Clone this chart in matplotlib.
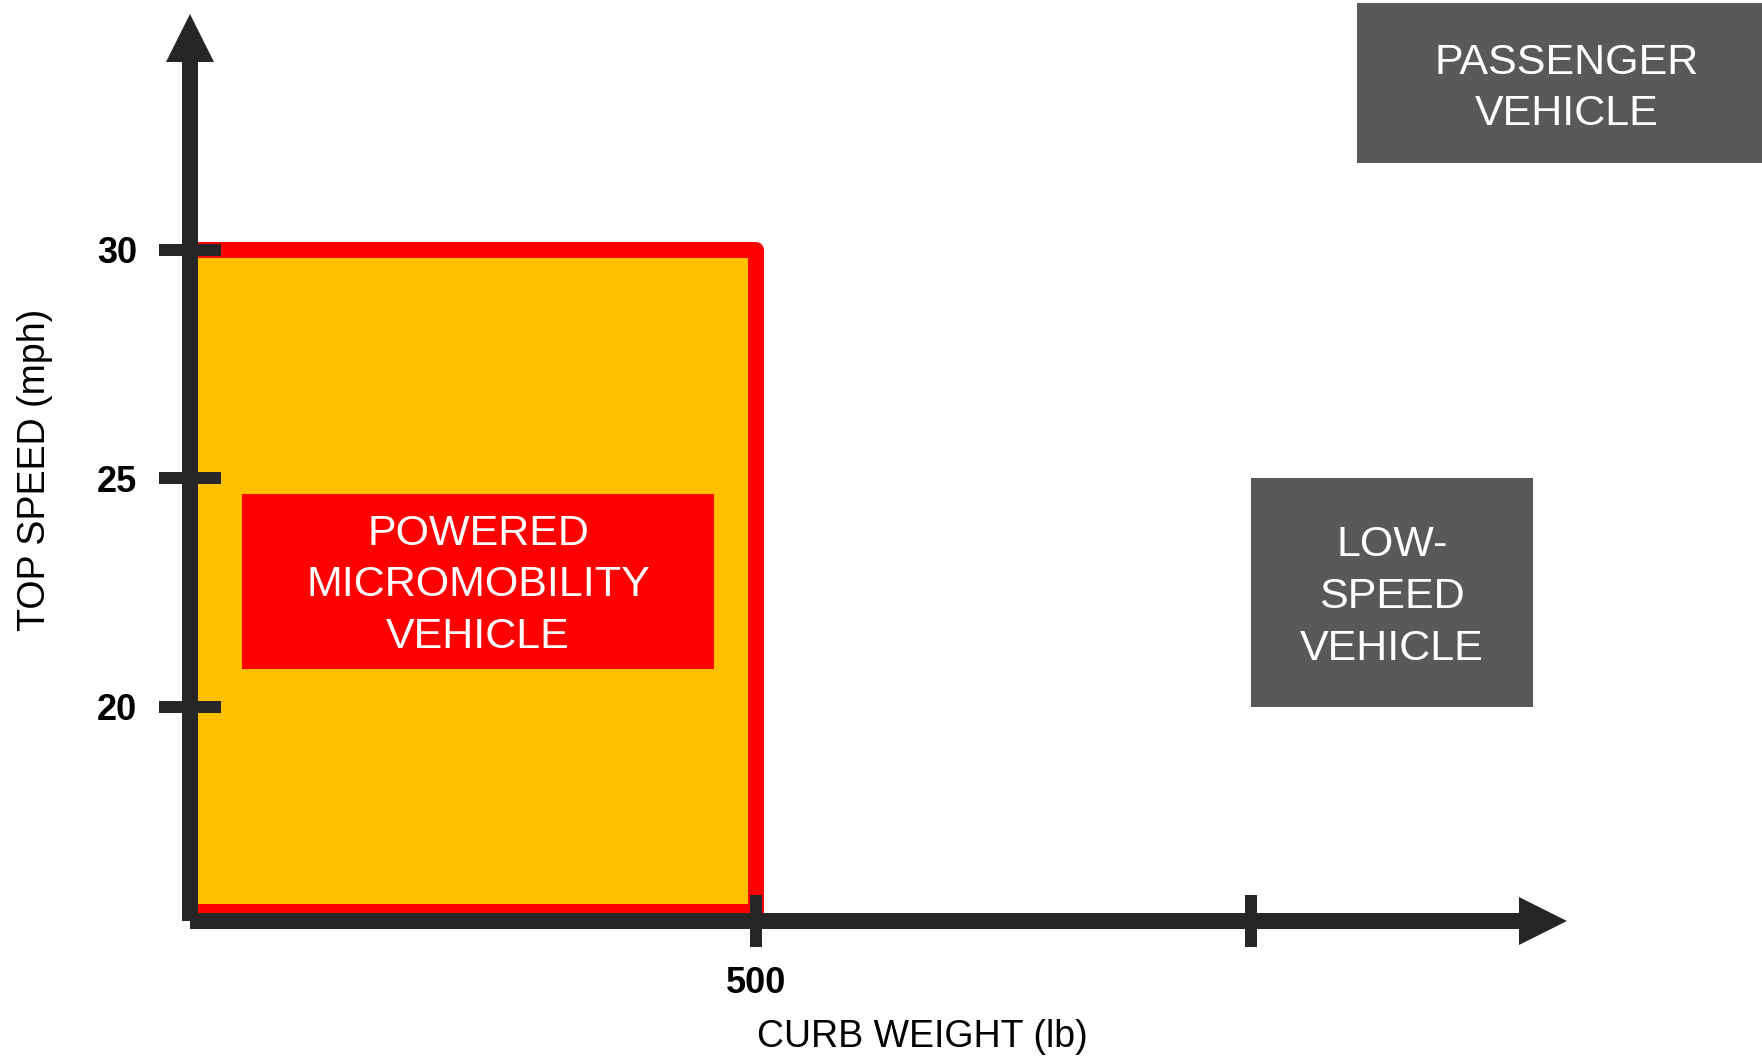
import matplotlib
matplotlib.use("Agg")
import matplotlib.pyplot as plt
from matplotlib.patches import Rectangle, FancyArrowPatch, ArrowStyle
from matplotlib.transforms import ScaledTranslation

plt.rcParams['font.family'] = ['Liberation Sans', 'DejaVu Sans']

# ---------------- values ----------------
speed_ticks = [20, 25, 30]                  # mph
speed_tick_labels = ['20', '25', '30']
weight_ticks = [500, 1000]                  # lb
weight_tick_labels = ['500', '']

categories = ['POWERED\nMICROMOBILITY\nVEHICLE',
              'LOW-\nSPEED\nVEHICLE',
              'PASSENGER\nVEHICLE']

micro_max_weight = 500      # lb
micro_max_speed = 30        # mph
lsv_min_weight = 1000       # lb
lsv_speed_range = [20, 25]  # mph

# ---------------- layout ----------------
DPI = 100
W_PX, H_PX = 1762, 1056
XLIM = (-264.9, 1516.7)     # lb across the canvas
YLIM = (12.363, 35.470)     # mph across the canvas
X0, Y0 = -72.8, 15.317      # where the two axis arrows meet
X_TIP, Y_TIP = 1319.5, 35.164

micro_label_box = dict(x=(-20.2, 457.0), y=(20.832, 24.661))
lsv_box_right = 1285.1
passenger_box = dict(x=(1107.2, 1600.0), y=(31.90, 35.405))
passenger_text_xy = (1319.6, 33.62)

DARK = '#262626'
YELLOW = '#FFC000'
RED = '#FF0000'
GREY = '#595959'


def pt(px):
    return px * 72.0 / DPI


fig = plt.figure(figsize=(W_PX / DPI, H_PX / DPI), dpi=DPI)
ax = fig.add_axes([0, 0, 1, 1])
ax.set_xlim(*XLIM)
ax.set_ylim(*YLIM)
ax.set_facecolor('white')

# ticks sit on the two arrows
ax.spines['left'].set_position(('data', X0))
ax.spines['bottom'].set_position(('data', Y0))
for s in ax.spines.values():
    s.set_visible(False)

ax.set_yticks(speed_ticks, speed_tick_labels)
ax.set_xticks(weight_ticks, weight_tick_labels)
ax.tick_params(axis='y', direction='inout', length=pt(62), width=pt(12),
               color=DARK, pad=pt(22), labelsize=26, labelcolor='black')
ax.tick_params(axis='x', direction='inout', length=pt(52), width=pt(12),
               color=DARK, pad=pt(19), labelsize=26, labelcolor='black')
for lab in ax.get_xticklabels() + ax.get_yticklabels():
    lab.set_fontweight('bold')
ax.set_axisbelow(False)

# micromobility region
region = Rectangle((X0, Y0 + 0.2), micro_max_weight - X0,
                   micro_max_speed - (Y0 + 0.2),
                   facecolor=YELLOW, edgecolor=RED, linewidth=pt(16),
                   joinstyle='round', zorder=1)
ax.add_patch(region)

# category boxes
ax.add_patch(Rectangle((micro_label_box['x'][0], micro_label_box['y'][0]),
                       micro_label_box['x'][1] - micro_label_box['x'][0],
                       micro_label_box['y'][1] - micro_label_box['y'][0],
                       facecolor=RED, edgecolor='none', zorder=2))
ax.add_patch(Rectangle((lsv_min_weight, lsv_speed_range[0]),
                       lsv_box_right - lsv_min_weight,
                       lsv_speed_range[1] - lsv_speed_range[0],
                       facecolor=GREY, edgecolor='none', zorder=2))
ax.add_patch(Rectangle((passenger_box['x'][0], passenger_box['y'][0]),
                       passenger_box['x'][1] - passenger_box['x'][0],
                       passenger_box['y'][1] - passenger_box['y'][0],
                       facecolor=GREY, edgecolor='none', zorder=2,
                       clip_on=False))

# nudge the multi-line labels so the caps sit optically centred
text_shift = ax.transData + ScaledTranslation(0, -4 / DPI, fig.dpi_scale_trans)
box_text = dict(color='white', fontsize=31, ha='center', va='center',
                linespacing=1.38, zorder=4, transform=text_shift)
ax.text(sum(micro_label_box['x']) / 2, sum(micro_label_box['y']) / 2,
        categories[0], **box_text)
ax.text((lsv_min_weight + lsv_box_right) / 2, sum(lsv_speed_range) / 2,
        categories[1], **box_text)
ax.text(*passenger_text_xy, categories[2], **box_text)

# axis arrows
head = ArrowStyle('Simple', head_length=pt(48), head_width=pt(48),
                  tail_width=pt(16))
for end in [(X_TIP, Y0), (X0, Y_TIP)]:
    ax.add_patch(FancyArrowPatch((X0, Y0), end, arrowstyle=head,
                                 mutation_scale=1, linewidth=0,
                                 color=DARK, shrinkA=0, shrinkB=0,
                                 zorder=3))

ax.set_xlabel('CURB WEIGHT (lb)', fontsize=27)
ax.set_ylabel('TOP SPEED (mph)', fontsize=27)
ax.xaxis.set_label_coords(922 / W_PX, 1 - 1019 / H_PX)
ax.yaxis.set_label_coords(53 / W_PX, 1 - 470 / H_PX)

fig.savefig('out.png', dpi=DPI)
